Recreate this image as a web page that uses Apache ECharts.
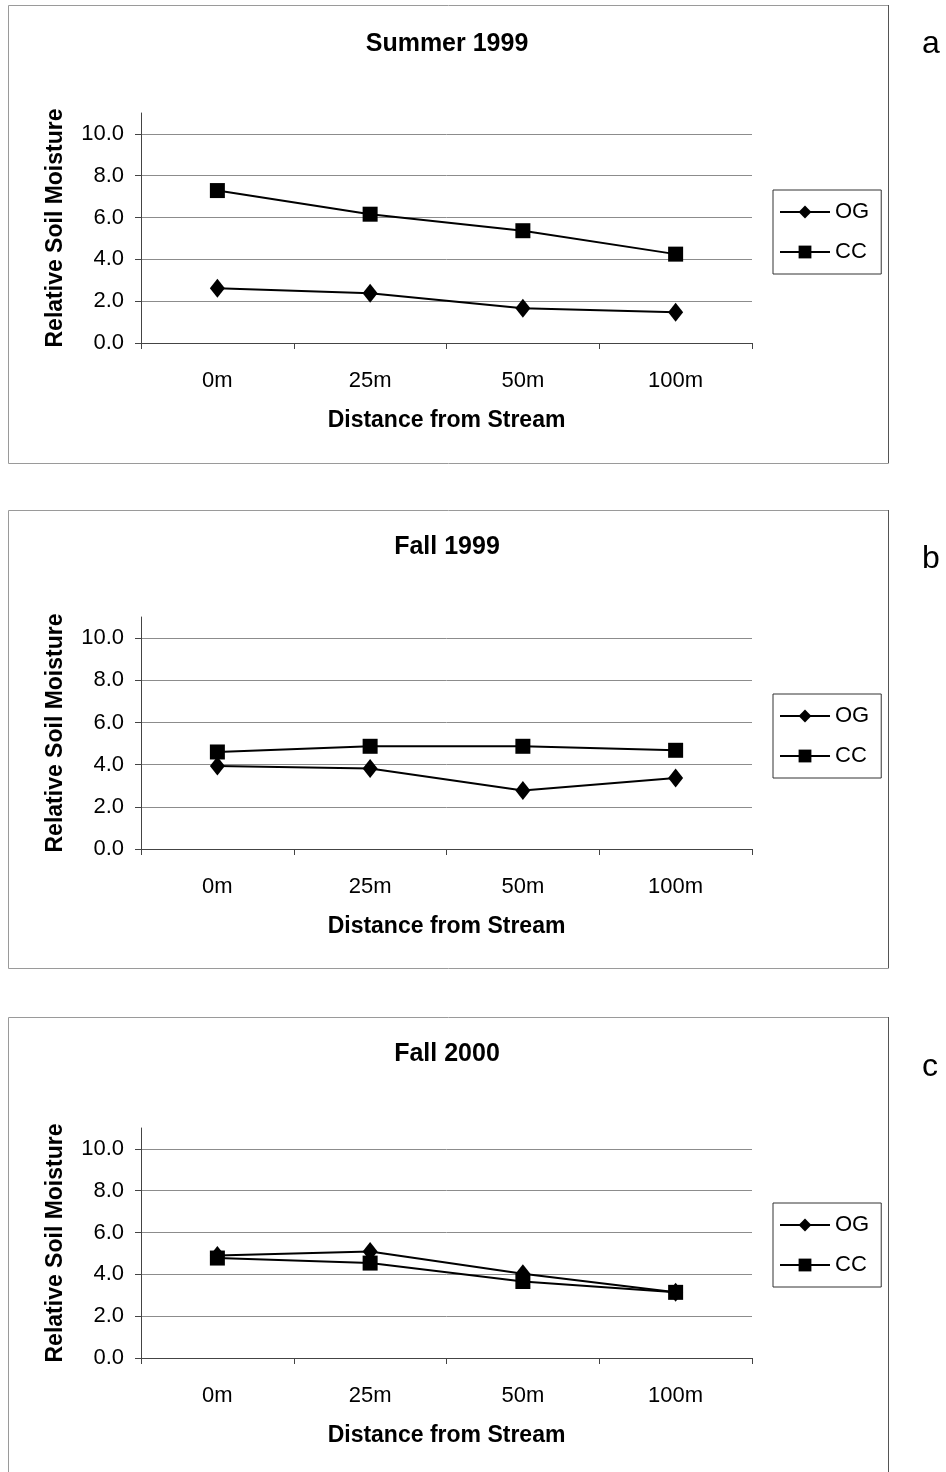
<!DOCTYPE html>
<html>
<head>
<meta charset="utf-8">
<script src="https://cdn.jsdelivr.net/npm/echarts@6/dist/echarts.min.js"></script>
<style>
  html, body { margin: 0; padding: 0; background: #fff; }
  #chart { width: 946px; height: 1472px; }
</style>
</head>
<body>
<div id="chart"></div>
<script>
// Relative soil moisture by distance from stream, old growth (OG) vs clear cut (CC)
const categories = ['0m', '25m', '50m', '100m'];
const yTicks = [0, 2, 4, 6, 8, 10];
const seriesNames = ['OG', 'CC'];
const panelTitles = ['Summer 1999', 'Fall 1999', 'Fall 2000'];
const panelLetters = ['a', 'b', 'c'];

const summer1999OG = [2.62, 2.38, 1.66, 1.47];
const summer1999CC = [7.29, 6.16, 5.37, 4.25];
const fall1999OG = [3.93, 3.82, 2.77, 3.37];
const fall1999CC = [4.60, 4.87, 4.87, 4.68];
const fall2000OG = [4.90, 5.09, 4.03, 3.14];
const fall2000CC = [4.78, 4.54, 3.66, 3.14];

const panelData = [
  [summer1999OG, summer1999CC],
  [fall1999OG, fall1999CC],
  [fall2000OG, fall2000CC]
];

// panel placement on the page
const layout = [
  { frameTop: 5,    frameBottom: 463,  gridTop: 113,  gridH: 230, titleTop: 32,   legendTop: 190,  letterY: 47 },
  { frameTop: 510,  frameBottom: 968,  gridTop: 617,  gridH: 232, titleTop: 535,  legendTop: 694,  letterY: 562 },
  { frameTop: 1017, frameBottom: 1500, gridTop: 1128, gridH: 230, titleTop: 1042, legendTop: 1203, letterY: 1070 }
];

const FONT = '"Liberation Sans", Arial, sans-serif';
const symbols = ['diamond', 'rect'];
const symbolSizes = [[15, 19], 15];

const chart = echarts.init(document.getElementById('chart'), null, { renderer: 'canvas' });

const grids = [], xAxes = [], yAxes = [], series = [], titles = [], legends = [], graphics = [];

layout.forEach((L, i) => {
  grids.push({ left: 141, width: 611, top: L.gridTop, height: L.gridH, containLabel: false });

  xAxes.push({
    type: 'category', gridIndex: i, data: categories, boundaryGap: true,
    axisLine: { lineStyle: { color: '#444', width: 1 } },
    axisTick: { show: true, inside: false, length: 6, lineStyle: { color: '#444' } },
    axisLabel: { color: '#000', fontSize: 22, fontFamily: FONT, margin: 27 },
    name: 'Distance from Stream', nameLocation: 'middle', nameGap: 66,
    nameTextStyle: { color: '#000', fontSize: 23, fontWeight: 'bold', fontFamily: FONT },
    splitLine: { show: false }
  });

  yAxes.push({
    type: 'value', gridIndex: i, min: 0, max: 11, interval: 2,
    axisLine: { show: true, lineStyle: { color: '#444', width: 1 } },
    axisTick: { show: true, inside: false, length: 6, lineStyle: { color: '#444' }, customValues: yTicks },
    axisLabel: {
      color: '#000', fontSize: 22, fontFamily: FONT, margin: 17,
      customValues: yTicks, formatter: v => v.toFixed(1)
    },
    splitLine: { show: true, lineStyle: { color: '#8c8c8c', width: 1 } },
    name: 'Relative Soil Moisture', nameLocation: 'middle', nameGap: 74,
    nameTextStyle: { color: '#000', fontSize: 23, fontWeight: 'bold', fontFamily: FONT }
  });

  seriesNames.forEach((name, k) => {
    series.push({
      type: 'line', name: name, xAxisIndex: i, yAxisIndex: i,
      data: panelData[i][k],
      symbol: symbols[k], symbolSize: symbolSizes[k],
      lineStyle: { color: '#000', width: 2 },
      itemStyle: { color: '#000' },
      emphasis: { disabled: true },
      animation: false
    });
  });

  titles.push({
    text: panelTitles[i], left: 447, top: L.titleTop, textAlign: 'center', padding: 0,
    textStyle: { color: '#000', fontSize: 25, fontWeight: 'bold', fontFamily: FONT }
  });

  legends.push({
    data: seriesNames, orient: 'vertical', left: 773, top: L.legendTop,
    padding: [11, 12, 11, 6], itemWidth: 50, itemHeight: 16, itemGap: 18,
    borderColor: '#333', borderWidth: 1, selectedMode: false,
    textStyle: { color: '#000', fontSize: 22, fontFamily: FONT, padding: [0, 0, 0, 0] }
  });

  // panel frame
  graphics.push({
    type: 'rect', shape: { x: 8.5, y: L.frameTop + 0.5, width: 880, height: L.frameBottom - L.frameTop },
    style: { fill: 'none', stroke: '#9a9a9a', lineWidth: 1 }, silent: true
  });
  graphics.push({
    type: 'line', shape: { x1: 888.5, y1: L.frameTop, x2: 888.5, y2: L.frameBottom },
    style: { stroke: '#555', lineWidth: 1 }, silent: true
  });
  graphics.push({
    type: 'text', left: 922, top: L.letterY - 19,
    style: { text: panelLetters[i], fill: '#000', fontSize: 32, fontFamily: FONT }
  });
});

chart.setOption({
  backgroundColor: '#fff',
  animation: false,
  title: titles,
  legend: legends,
  grid: grids,
  xAxis: xAxes,
  yAxis: yAxes,
  series: series,
  graphic: graphics
});
</script>
</body>
</html>
